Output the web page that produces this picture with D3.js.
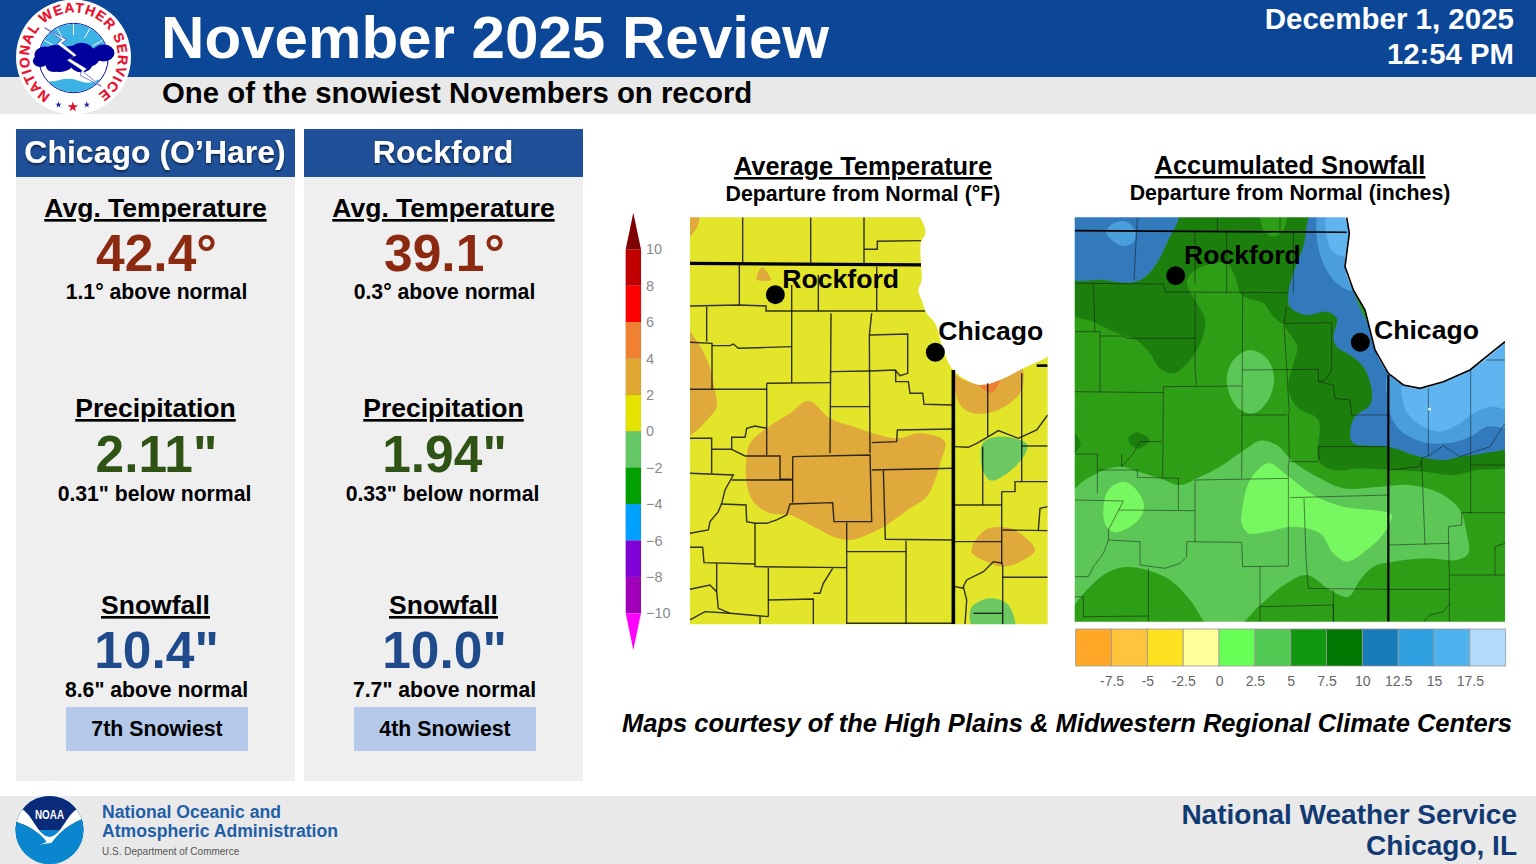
<!DOCTYPE html>
<html>
<head>
<meta charset="utf-8">
<script src="https://cdn.jsdelivr.net/npm/d3@7"></script>
<style>
html, body { margin: 0; padding: 0; background: #fff; }
svg { display: block; }
text { font-family: "Liberation Sans", Arial, sans-serif; font-weight: bold; }
</style>
</head>
<body>
<svg id="chart" width="1536" height="864"></svg>
<script>
// stats panels
const stations = ["Chicago (O’Hare)", "Rockford"];
const statHeads = ["Avg. Temperature", "Precipitation", "Snowfall"];
const statValues = [["42.4°", "2.11\"", "10.4\""], ["39.1°", "1.94\"", "10.0\""]];
const statNotes = [
  ["1.1° above normal", "0.31\" below normal", "8.6\" above normal"],
  ["0.3° above normal", "0.33\" below normal", "7.7\" above normal"]
];
const snowRanks = ["7th Snowiest", "4th Snowiest"];

// temperature colour bar
const tempBreaks = [10, 8, 6, 4, 2, 0, -2, -4, -6, -8];
const tempColors = ["#c00000", "#ff0000", "#f08030", "#e0a830", "#e6e200", "#64c864", "#00a000", "#00a0ff", "#8000d8"];
const tempTicks = [10, 8, 6, 4, 2, 0, -2, -4, -6, -8, -10];

// snowfall colour bar
const snowTicks = [-7.5, -5, -2.5, 0, 2.5, 5, 7.5, 10, 12.5, 15, 17.5];
const snowColors = ["#ffa828", "#ffc43c", "#ffe020", "#ffff99", "#66ff55", "#52c952", "#109910", "#007700", "#177bb8", "#2e9fdf", "#4cb3ee", "#b3d9fb"];

// map 1 shapes, in map units
const tempLake = [[930,30],[945,85],[945,105],[933,125],[933,195],[935,240],[925,270],[935,300],[950,340],[975,370],[1000,450],[1025,505],[1060,535],[1110,555],[1170,540],[1240,505],[1330,455],[1400,300],[1400,30]];
const tempAreas = [
  {c: "#dfa93a", p: [[230,40],[266,40],[262,80],[230,115]]},
  {c: "#dfa93a", p: [[225,385],[265,430],[295,490],[310,550],[320,620],[300,650],[225,710]]},
  {c: "#dfa93a", p: [[440,238],[455,203],[470,215],[482,240]]},
  {c: "#dfa93a", p: [[595,602],[660,655],[730,680],[860,715],[930,700],[1005,725],[990,790],[975,840],[950,890],[900,925],[830,975],[770,1005],[720,1020],[670,1010],[620,985],[540,945],[480,940],[430,905],[410,850],[410,770],[420,730],[470,685],[540,640]]},
  {c: "#dfa93a", p: [[1035,525],[1060,540],[1110,550],[1170,535],[1235,505],[1235,570],[1205,605],[1150,635],[1090,640],[1055,620],[1040,590]]},
  {c: "#ef8030", p: [[1105,552],[1170,537],[1145,578]]},
  {c: "#dfa93a", p: [[1085,1055],[1125,990],[1200,985],[1275,1050],[1230,1085],[1180,1100],[1130,1085]]},
  {c: "#6cc864", p: [[1118,730],[1150,712],[1200,712],[1252,735],[1225,790],[1145,842],[1118,810]]},
  {c: "#6cc864", p: [[1083,1225],[1140,1195],[1195,1215],[1212,1290],[1093,1290]]}
];
const tempThick = [
  [[240,190],[933,195]],
  [[1030,510],[1030,1273]],
  [[1280,497],[1313,497]]
];
const tempCounties = [
  [[398,52],[398,190]], [[602,52],[602,190]], [[762,52],[762,190]],
  [[762,148],[802,148],[802,124],[933,122]],
  [[388,195],[388,315]], [[240,318],[388,315],[468,318],[468,333],[945,333]],
  [[545,255],[545,548]], [[625,225],[625,333]], [[800,200],[800,333]],
  [[290,320],[290,425]], [[240,427],[306,430],[306,568]],
  [[306,437],[360,437],[370,432],[385,445],[545,440]],
  [[240,568],[470,568]], [[470,550],[660,548]], [[470,550],[470,765]],
  [[663,340],[660,760]], [[660,515],[780,513]], [[663,620],[780,620]],
  [[785,340],[778,405],[780,760]],
  [[780,405],[893,402],[893,520],[870,527],[855,510],[780,513]],
  [[857,510],[857,545],[895,545],[900,580],[938,580],[942,613],[1030,615]],
  [[785,728],[860,725],[862,690],[1030,687]], [[785,810],[1030,805]],
  [[240,715],[305,715],[305,820]],
  [[305,748],[365,748],[365,712],[405,712],[410,685],[435,678],[470,685]],
  [[365,748],[405,768],[510,768],[510,838],[545,838]],
  [[240,820],[370,825],[345,870],[335,910],[325,935],[300,965],[295,990],[240,1000]],
  [[365,840],[548,840]],
  [[548,770],[780,765],[785,965],[672,965],[668,908],[540,912],[530,945],[500,960],[470,970],[435,970],[410,965],[408,915],[335,912]],
  [[548,770],[548,908]], [[820,812],[826,1018],[1030,1020]],
  [[710,968],[710,1273]], [[710,1055],[888,1055],[888,1273]], [[888,1022],[888,1055]],
  [[435,970],[435,1100],[710,1103]],
  [[240,1042],[278,1042],[282,1088],[435,1092]],
  [[320,1090],[320,1175],[325,1225],[360,1240],[475,1250]],
  [[475,1103],[475,1250]], [[475,1200],[610,1197],[610,1273]],
  [[610,1180],[630,1180],[640,1150],[668,1105]],
  [[240,1168],[300,1155],[320,1175]], [[240,1260],[285,1235],[360,1240]],
  [[450,1250],[450,1273]], [[710,1270],[1030,1270]],
  [[1035,740],[1075,742],[1100,730],[1135,710],[1165,692],[1225,715],[1280,690],[1313,645]],
  [[1133,550],[1133,710]], [[1235,520],[1235,845]], [[1235,738],[1313,738]],
  [[1118,740],[1118,915]], [[1035,915],[1175,915]], [[1175,875],[1175,1095]],
  [[1175,875],[1215,875],[1215,845],[1313,845]], [[1035,1025],[1175,1025]],
  [[1178,990],[1313,992]], [[1285,990],[1290,925],[1313,920]], [[1178,1132],[1313,1132]],
  [[1178,1090],[1150,1085],[1120,1115],[1070,1140],[1060,1160],[1070,1200],[1065,1273]],
  [[1035,1160],[1060,1165]], [[1178,1095],[1178,1273]], [[1090,1240],[1178,1240]]
];
const tempCities = [
  {name: "Rockford", x: 496, y: 284, lx: 517, ly: 265},
  {name: "Chicago", x: 976, y: 457, lx: 985, ly: 420}
];

// map 2 shapes, in map units
const snowLake = [[860,30],[868,100],[855,200],[880,270],[915,330],[945,450],[985,520],[1030,555],[1080,565],[1150,545],[1230,510],[1335,425],[1400,340],[1400,30]];
const snowAreas = [
  {c: "#1e7e10", p: [[350,40],[590,40],[610,90],[640,110],[670,90],[690,40],[760,40],[730,140],[700,220],[685,300],[685,330],[672,370],[640,350],[610,310],[545,285],[525,230],[500,190],[440,195],[390,225],[380,250],[405,300],[435,360],[425,420],[390,480],[340,520],[300,505],[270,460],[230,420],[160,395],[100,365],[30,340],[30,225],[130,240],[210,248],[250,235],[290,190],[320,130]]},
  {c: "#1e7e10", p: [[685,320],[820,335],[1000,500],[1350,700],[1350,795],[1250,810],[1180,825],[1090,815],[990,810],[900,805],[820,810],[775,780],[775,660],[710,620],[685,560],[700,490],[712,440],[672,370]]},
  {c: "#1e7e10", p: [[205,715],[230,697],[268,720],[240,745],[215,738]]},
  {c: "#1e7e10", p: [[30,690],[62,730],[30,770]]},
  {c: "#337abb", p: [[30,30],[355,30],[320,130],[290,190],[250,235],[210,248],[130,240],[30,232]]},
  {c: "#4a9edb", p: [[138,95],[160,70],[200,65],[225,95],[222,125],[190,138],[155,120]]},
  {c: "#337abb", p: [[760,30],[880,30],[880,270],[1030,480],[1360,400],[1360,730],[1270,760],[1200,770],[1150,780],[1080,770],[985,740],[880,730],[870,700],[885,650],[930,615],[935,570],[910,500],[870,465],[830,440],[820,415],[830,355],[800,335],[740,345],[690,320],[685,280],[700,220],[730,140]]},
  {c: "#4a9edb", p: [[780,30],[880,30],[880,270],[830,250],[790,190],[770,110]]},
  {c: "#4a9edb", p: [[985,520],[1030,540],[1150,530],[1360,450],[1360,675],[1280,680],[1230,710],[1160,730],[1085,725],[1020,690],[990,640]]},
  {c: "#60b5f0", p: [[805,30],[880,30],[880,170],[820,155],[800,110]]},
  {c: "#60b5f0", p: [[1030,545],[1150,530],[1360,430],[1360,625],[1290,620],[1240,640],[1200,670],[1140,695],[1090,680],[1050,650],[1030,610]]},
  {c: "#5cc757", p: [[30,890],[110,820],[180,800],[235,815],[300,835],[360,855],[420,830],[480,800],[560,745],[600,722],[650,735],[700,785],[780,835],[850,865],[960,860],[1050,855],[1140,880],[1200,930],[1220,1000],[1225,1060],[1190,1080],[1100,1075],[1000,1085],[940,1100],[900,1140],[865,1190],[810,1170],[740,1125],[680,1150],[600,1215],[530,1280],[450,1280],[390,1200],[330,1140],[260,1110],[190,1102],[130,1125],[80,1170],[30,1220]]},
  {c: "#5cc757", p: [[500,540],[520,480],[570,450],[620,475],[642,530],[625,600],[580,640],[530,620]]},
  {c: "#78f860", p: [[130,925],[145,870],[190,845],[230,870],[252,920],[230,965],[160,997],[135,970]]},
  {c: "#78f860", p: [[545,940],[570,840],[625,790],[680,825],[760,885],[850,920],[975,935],[995,945],[975,995],[920,1050],[860,1085],[820,1060],[780,1000],[700,980],[620,995],[565,1000],[545,970]]}
];
const snowThick = [
  [[44,92],[860,97]],
  [[985,525],[985,1265]],
  [[860,52],[868,100],[855,200],[880,270],[915,330],[945,450],[985,520],[1030,555],[1080,565],[1150,545],[1230,510],[1335,425]]
];
const snowCounties = [
  [[232,52],[222,240]], [[472,52],[472,92]], [[660,52],[660,92]],
  [[405,97],[405,250]], [[500,97],[500,278]], [[700,97],[700,278]],
  [[44,250],[310,252],[316,276],[685,278]],
  [[100,250],[105,395]], [[44,395],[120,395],[120,575]],
  [[120,408],[190,408],[205,415],[405,415]],
  [[405,280],[405,510],[410,555]], [[310,560],[545,558]],
  [[44,575],[310,578]], [[310,560],[308,830]], [[548,278],[545,835]],
  [[680,320],[672,370],[688,640]],
  [[545,510],[775,508],[775,545],[820,555],[825,595],[870,600],[875,645],[985,645]],
  [[672,370],[815,368],[815,510],[795,540],[775,545]],
  [[545,645],[680,645]], [[685,640],[688,785]],
  [[775,740],[985,740]], [[775,740],[778,780]], [[688,785],[775,785]],
  [[44,762],[112,762],[112,880]],
  [[112,810],[232,810],[232,832],[355,835],[355,930]],
  [[185,762],[185,800],[220,760],[240,725],[305,725]],
  [[44,900],[190,903],[145,990],[145,1020],[240,1025],[240,1095],[315,1105],[360,1090],[380,1070],[380,1025],[545,1027],[548,1100],[685,1098]],
  [[145,1020],[130,1060],[100,1100],[85,1130],[44,1130]],
  [[175,930],[405,932]], [[405,840],[405,1025]], [[405,840],[685,835]],
  [[685,785],[685,1098]], [[690,893],[985,885]],
  [[732,895],[738,1075],[745,1165],[985,1168],[1170,1168]],
  [[600,1100],[600,1265]], [[600,1220],[820,1215],[820,1265]], [[820,1170],[820,1265]],
  [[265,1105],[265,1265]], [[70,1190],[70,1250],[265,1248]], [[44,1190],[70,1190]],
  [[985,810],[1080,800],[1085,775],[1110,765],[1150,737],[1200,770],[1290,740],[1335,670]],
  [[1232,510],[1232,940]], [[1105,565],[1105,770]], [[1085,780],[1095,1035]],
  [[1205,938],[1335,938]], [[1205,938],[1205,975],[1165,980],[1168,1125]],
  [[985,1035],[1168,1030]], [[1168,1125],[1335,1125]], [[1168,1125],[1168,1265]],
  [[1232,795],[1335,795]], [[1305,1125],[1305,1040],[1335,1030]],
  [[1170,1210],[1150,1235],[1110,1245],[1090,1265]], [[1280,480],[1335,480]]
];
const snowCities = [
  {name: "Rockford", x: 347, y: 227, lx: 372, ly: 192},
  {name: "Chicago", x: 901, y: 427, lx: 942, ly: 417}
];

const svg = d3.select("#chart");
const defs = svg.append("defs");
defs.append("filter").attr("id", "soft").append("feGaussianBlur").attr("stdDeviation", 0.45);
defs.append("filter").attr("id", "shade").append("feDropShadow")
  .attr("dx", 0).attr("dy", 1.5).attr("stdDeviation", 1.2).attr("flood-color", "#000").attr("flood-opacity", 0.65);

function label(g, txt, x, y, size, fill, anchor) {
  return g.append("text").attr("x", x).attr("y", y).attr("font-size", size)
    .attr("fill", fill).attr("text-anchor", anchor || "start").text(txt);
}

// header and footer bands
svg.append("rect").attr("width", 1536).attr("height", 77).attr("fill", "#0b4697");
svg.append("rect").attr("y", 77).attr("width", 1536).attr("height", 37).attr("fill", "#e9e9e9");
svg.append("rect").attr("y", 796).attr("width", 1536).attr("height", 68).attr("fill", "#e9e9e9");

label(svg, "November 2025 Review", 161, 58, 60.1, "#fff");
label(svg, "One of the snowiest Novembers on record", 162, 103, 29.35, "#000");
label(svg, "December 1, 2025", 1514, 29, 29.5, "#fff", "end");
label(svg, "12:54 PM", 1514, 64, 29.3, "#fff", "end");

label(svg, "National Weather Service", 1517, 824, 28, "#123a72", "end");
label(svg, "Chicago, IL", 1517, 855, 28, "#123a72", "end");
label(svg, "National Oceanic and", 102, 818, 17.6, "#1f5fa8");
label(svg, "Atmospheric Administration", 102, 837, 17.6, "#1f5fa8");
label(svg, "U.S. Department of Commerce", 102, 855, 10, "#555").style("font-weight", "normal");

label(svg, "Maps courtesy of the High Plains & Midwestern Regional Climate Centers", 622, 732, 25.5, "#000").style("font-style", "italic");

// station panels
const panelX = d3.scaleBand().domain(d3.range(stations.length)).range([16, 583]).paddingInner(0.03125).paddingOuter(0);
const statCy = [0, 200, 397];
const valueColors = ["#8b2a10", "#2f5315", "#1f4a8c"];
const valueDy = [0, 1, 0];
const noteDy = [0, 2, 1];

stations.forEach(function(name, i) {
  const x0 = panelX(i), w = panelX.bandwidth(), cx = x0 + 139.5;
  const g = svg.append("g");
  g.append("rect").attr("x", x0).attr("y", 129).attr("width", w).attr("height", 652).attr("fill", "#efefef");
  g.append("rect").attr("x", x0).attr("y", 129).attr("width", w).attr("height", 48).attr("fill", "#1f5098");
  label(g, name, cx - 0.5, 163, 32, "#fff", "middle").attr("filter", "url(#shade)");
  statHeads.forEach(function(h, j) {
    const dy = statCy[j];
    label(g, h, cx, 217 + dy, 26.5, "#000", "middle").style("text-decoration", "underline");
    label(g, statValues[i][j], cx + 1, 271 + dy + valueDy[j], 51.5, valueColors[j], "middle");
    label(g, statNotes[i][j], cx + (j == 1 ? -1 : 1), 299 + dy + noteDy[j], 21.2, "#000", "middle");
  });
  const bx = x0 + 50;
  g.append("rect").attr("x", bx).attr("y", 707).attr("width", 182).attr("height", 44).attr("fill", "#b5caea");
  label(g, snowRanks[i], bx + 91, 736, 21.3, "#000", "middle");
});

// maps
const line = d3.line();
const smooth = d3.line().curve(d3.curveCatmullRomClosed.alpha(0.5));

function drawMap(id, frame, base, lake, areas, counties, thick, thickW, thinW, thinOp, cities) {
  const x = d3.scaleLinear().domain([frame.u0, frame.u1]).range([frame.x0, frame.x1]);
  const y = d3.scaleLinear().domain([frame.v0, frame.v1]).range([frame.y0, frame.y1]);
  const pts = p => p.map(d => [x(d[0]), y(d[1])]);
  defs.append("clipPath").attr("id", id).append("rect")
    .attr("x", frame.x0).attr("y", frame.y0).attr("width", frame.x1 - frame.x0).attr("height", frame.y1 - frame.y0);
  const g = svg.append("g").attr("clip-path", "url(#" + id + ")").append("g").attr("filter", "url(#soft)");
  g.append("rect").attr("x", frame.x0 - 5).attr("y", frame.y0 - 5)
    .attr("width", frame.x1 - frame.x0 + 10).attr("height", frame.y1 - frame.y0 + 10).attr("fill", base);
  g.selectAll("path.area").data(areas).enter().append("path").attr("class", "area")
    .attr("d", d => smooth(pts(d.p))).attr("fill", d => d.c);
  g.append("path").attr("d", smooth(pts(lake))).attr("fill", "#fff");
  g.selectAll("path.county").data(counties).enter().append("path").attr("class", "county")
    .attr("d", d => line(pts(d))).attr("fill", "none").attr("stroke", "#111")
    .attr("stroke-width", thinW).attr("stroke-opacity", thinOp);
  g.selectAll("path.state").data(thick).enter().append("path").attr("class", "state")
    .attr("d", d => line(pts(d))).attr("fill", "none").attr("stroke", "#000")
    .attr("stroke-width", (d, i) => thickW[i] || thickW[0]);
  const c = svg.append("g");
  c.selectAll("circle").data(cities).enter().append("circle")
    .attr("cx", d => x(d.x)).attr("cy", d => y(d.y)).attr("r", 9.5).attr("fill", "#000");
  c.selectAll("text").data(cities).enter().append("text")
    .attr("x", d => x(d.lx)).attr("y", d => y(d.ly)).attr("font-size", 26.6).attr("fill", "#000").text(d => d.name);
}

drawMap("clipTemp",
  {u0: 240, u1: 1313, v0: 52, v1: 1273, x0: 690, x1: 1047.7, y0: 217.3, y1: 624.3},
  "#e3e52b", tempLake, tempAreas, tempCounties, tempThick, [3.2, 3.6, 2.6], 1.4, 0.85, tempCities);
drawMap("clipSnow",
  {u0: 44, u1: 1335, v0: 52, v1: 1265, x0: 1074.7, x1: 1505, y0: 217.3, y1: 621.7},
  "#2e9e16", snowLake, snowAreas, snowCounties, snowThick, [1.6, 2.2, 1.6], 0.9, 0.55, snowCities);
svg.append("circle").attr("cx", 1429.5).attr("cy", 409).attr("r", 1.5).attr("fill", "#dff").attr("filter", "url(#soft)");

// map titles
label(svg, "Average Temperature", 863, 175, 25.4, "#000", "middle").style("text-decoration", "underline");
label(svg, "Departure from Normal (°F)", 863, 201, 21.3, "#000", "middle");
label(svg, "Accumulated Snowfall", 1290, 174, 25.4, "#000", "middle").style("text-decoration", "underline");
label(svg, "Departure from Normal (inches)", 1290, 200, 21.3, "#000", "middle");

// temperature colour bar
const tempY = d3.scaleLinear().domain([10, -10]).range([249.3, 613.3]);
const tempBar = svg.append("g").attr("filter", "url(#soft)");
tempBar.selectAll("rect").data(tempColors).enter().append("rect")
  .attr("x", 625.7).attr("width", 15.3)
  .attr("y", (d, i) => tempY(tempBreaks[i]))
  .attr("height", (d, i) => tempY(tempBreaks[i + 1]) - tempY(tempBreaks[i]))
  .attr("fill", d => d).attr("stroke", "#0002").attr("stroke-width", 0.5);
tempBar.append("rect").attr("x", 625.7).attr("width", 15.3).attr("y", tempY(-8))
  .attr("height", tempY(-10) - tempY(-8)).attr("fill", "#a000b8");
tempBar.append("path").attr("fill", "#7f0000")
  .attr("d", line([[625.7, tempY(10)], [641, tempY(10)], [633.3, 212.7]]) + "Z");
tempBar.append("path").attr("fill", "#ff00ff")
  .attr("d", line([[625.7, tempY(-10)], [641, tempY(-10)], [633.3, 650]]) + "Z");
const tempAxis = d3.axisRight(tempY).tickValues(tempTicks).tickSize(0).tickPadding(0);
svg.append("g").attr("transform", "translate(646,0)").call(tempAxis)
  .call(g => g.select(".domain").remove())
  .call(g => g.selectAll("text").attr("fill", "#8a8a8a").attr("font-size", 14.5)
    .style("font-weight", "normal").attr("dy", "0.32em"));

// snowfall colour bar
const snowX = d3.scaleLinear().domain([-10, 20]).range([1075.7, 1505.7]);
const snowStep = 2.5;
svg.append("g").selectAll("rect").data(snowColors).enter().append("rect")
  .attr("x", (d, i) => snowX(-10 + i * snowStep))
  .attr("y", 629).attr("width", snowX(snowStep) - snowX(0)).attr("height", 37)
  .attr("fill", d => d).attr("stroke", "#9a9a9a").attr("stroke-width", 0.8);
const snowAxis = d3.axisBottom(snowX).tickValues(snowTicks).tickSize(0).tickPadding(0).tickFormat(d => d);
svg.append("g").attr("transform", "translate(0,676)").call(snowAxis)
  .call(g => g.select(".domain").remove())
  .call(g => g.selectAll("text").attr("fill", "#666").attr("font-size", 14)
    .style("font-weight", "normal"));

// NWS seal
const seal = svg.append("g").attr("transform", "translate(73.5,57)");
seal.append("circle").attr("r", 57.5).attr("fill", "#fff");
defs.append("path").attr("id", "sealArc").attr("d", "M -22.9 38.1 A 44.5 44.5 0 1 1 22.9 38.1");
seal.append("text").attr("font-size", 13.8).attr("fill", "#e8112d").attr("stroke", "#e8112d").attr("stroke-width", 0.25)
  .append("textPath").attr("href", "#sealArc").attr("textLength", 229).attr("lengthAdjust", "spacing")
  .text("NATIONAL WEATHER SERVICE");
seal.append("circle").attr("r", 34.7).attr("cy", 1).attr("fill", "#fff").attr("stroke", "#000e9e").attr("stroke-width", 1);
defs.append("clipPath").attr("id", "sealIn").append("circle").attr("r", 34.2).attr("cy", 1);
const sealIn = seal.append("g").attr("clip-path", "url(#sealIn)");
sealIn.append("rect").attr("x", -36).attr("y", -35).attr("width", 72).attr("height", 30).attr("fill", "#3db2e4");
d3.range(-60, 61, 30).forEach(function(a) {
  const r0 = 22, r1 = 37, t = (a - 90) * Math.PI / 180;
  sealIn.append("line").attr("x1", r0 * Math.cos(t)).attr("y1", r0 * Math.sin(t))
    .attr("x2", r1 * Math.cos(t)).attr("y2", r1 * Math.sin(t)).attr("stroke", "#fff").attr("stroke-width", 1);
});
sealIn.append("path").attr("fill", "#3db2e4").attr("d", "M -36 23 Q -24 26 -14 23 T 6 24 T 24 23 L 36 21 V 40 H -36 Z");
const puffs = [[-28,-2,10],[-14,3,14],[-2,-2,11],[8,-5,11],[-18,-3,11],[13,0,12],[30,-4,10],[-33,4,7],[8,7,10],[-20,9,7]];
seal.selectAll("ellipse").data(puffs).enter().append("ellipse")
  .attr("cx", d => d[0]).attr("cy", d => d[1]).attr("rx", d => d[2] * 1.1).attr("ry", d => d[2] * 0.85).attr("fill", "#00009c");
seal.append("path").attr("fill", "#fff").attr("stroke", "#000e9e").attr("stroke-width", 0.5)
  .attr("d", "M -29 -29.3 L -6.7 -17.3 L -11.7 -14 L 3.3 -1.7 L -3.3 1.7 L 13.3 11.7 L 10 15 L 27.7 29.3 L 6.7 18.3 L 8.3 13.3 L -6.7 3.3 L 0 -0.7 L -16.7 -13.3 L -11.7 -17.3 Z");
seal.append("path").attr("fill", "#e8112d").attr("d", d3.symbol().type(d3.symbolStar).size(34)()).attr("transform", "translate(-0.7,50)");
[-15, 13.3].forEach(function(dx) {
  seal.append("path").attr("fill", "#1a2a9c").attr("d", d3.symbol().type(d3.symbolStar).size(13)()).attr("transform", "translate(" + dx + ",47.7)");
});

// NOAA logo
const noaa = svg.append("g").attr("transform", "translate(49.5,830)");
defs.append("clipPath").attr("id", "noaaClip").append("circle").attr("r", 34);
const noaaIn = noaa.append("g").attr("clip-path", "url(#noaaClip)");
noaaIn.append("rect").attr("x", -35).attr("y", -35).attr("width", 70).attr("height", 70).attr("fill", "#0a86ce");
noaaIn.append("rect").attr("x", -35).attr("y", -35).attr("width", 70).attr("height", 35).attr("fill", "#0a2a7a");
noaaIn.append("path").attr("fill", "#fff").attr("d", "M -29 -22 C -16 -15 -12 6 0 7 C 12 6 16 -15 29 -22 L 36 -12 C 26 -8 14 -3 2 13 L -11 15 L -3 12 C -10 2 -22 -5 -36 -9 Z");
noaaIn.append("path").attr("fill", "#0a86ce").attr("d", "M -36 -9 C -22 -5 -10 2 -3 12 L -11 15 L 2 13 C 14 -3 26 -8 36 -12 V 36 H -36 Z");
label(noaa, "NOAA", 0, -11.5, 12, "#fff", "middle").attr("textLength", 29).attr("lengthAdjust", "spacingAndGlyphs");
</script>
</body>
</html>
